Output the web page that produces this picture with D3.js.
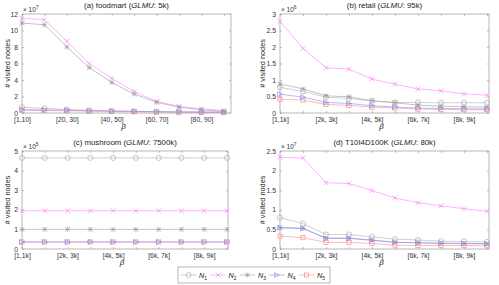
<!DOCTYPE html>
<html>
<head>
<meta charset="utf-8">
<script src="https://cdn.jsdelivr.net/npm/d3@7"></script>
<style>
  body { margin: 0; background: #fff; }
  svg { font-family: "Liberation Sans", Arial, sans-serif; }
</style>
</head>
<body>
<div id="chart"></div>
<script>
// series names and x labels
var seriesNames = ["N1", "N2", "N3", "N4", "N5"];
var foodmartTicks = ["[1,10]", "[20, 30]", "[40, 50]", "[60, 70]", "[80, 90]"];
var kTicks = ["[1,1k]", "[2k, 3k]", "[4k, 5k]", "[6k, 7k]", "[8k, 9k]"];

// (a) foodmart, x 10^7
var foodmartN1 = [0.7, 0.55, 0.42, 0.32, 0.26, 0.2, 0.15, 0.12, 0.1, 0.1];
var foodmartN2 = [11.5, 11.3, 8.7, 6.0, 4.2, 2.6, 1.4, 0.8, 0.5, 0.3];
var foodmartN3 = [10.9, 10.7, 8.0, 5.5, 3.7, 2.3, 1.3, 0.7, 0.4, 0.2];
var foodmartN4 = [0.4, 0.38, 0.34, 0.28, 0.24, 0.2, 0.16, 0.14, 0.12, 0.1];
var foodmartN5 = [0.32, 0.3, 0.26, 0.22, 0.19, 0.15, 0.12, 0.1, 0.09, 0.08];

// (b) retail, x 10^6
var retailN1 = [0.78, 0.65, 0.48, 0.44, 0.37, 0.32, 0.32, 0.31, 0.31, 0.31];
var retailN2 = [2.77, 1.96, 1.37, 1.33, 1.03, 0.87, 0.73, 0.67, 0.58, 0.54];
var retailN3 = [0.88, 0.73, 0.52, 0.49, 0.37, 0.31, 0.24, 0.21, 0.19, 0.18];
var retailN4 = [0.57, 0.48, 0.32, 0.29, 0.22, 0.18, 0.15, 0.14, 0.13, 0.12];
var retailN5 = [0.42, 0.39, 0.26, 0.23, 0.18, 0.15, 0.12, 0.11, 0.1, 0.1];

// (c) mushroom, x 10^5
var mushroomN1 = [4.65, 4.65, 4.65, 4.65, 4.65, 4.65, 4.65, 4.65, 4.65, 4.65];
var mushroomN2 = [1.95, 1.95, 1.95, 1.95, 1.95, 1.95, 1.95, 1.95, 1.95, 1.95];
var mushroomN3 = [1.0, 1.0, 1.0, 1.0, 1.0, 1.0, 1.0, 1.0, 1.0, 1.0];
var mushroomN4 = [0.36, 0.36, 0.36, 0.36, 0.36, 0.36, 0.36, 0.36, 0.36, 0.36];
var mushroomN5 = [0.36, 0.36, 0.36, 0.36, 0.36, 0.36, 0.36, 0.36, 0.36, 0.36];

// (d) T10I4D100K, x 10^7
var t10N1 = [0.8, 0.65, 0.37, 0.37, 0.31, 0.25, 0.23, 0.2, 0.19, 0.18];
var t10N2 = [2.34, 2.32, 1.69, 1.67, 1.49, 1.3, 1.18, 1.1, 1.03, 0.96];
var t10N3 = [0.55, 0.53, 0.28, 0.28, 0.23, 0.17, 0.16, 0.14, 0.14, 0.13];
var t10N4 = [0.54, 0.52, 0.27, 0.27, 0.22, 0.17, 0.16, 0.15, 0.14, 0.13];
var t10N5 = [0.33, 0.29, 0.17, 0.17, 0.14, 0.1, 0.09, 0.09, 0.09, 0.08];

var colors = ["#b0b0b0", "#ff80ff", "#9a9a9a", "#8c8cf0", "#ff8c8c"];
var markers = ["circle", "x", "star", "tri", "square"];
var drawOrder = [0, 1, 2, 4, 3];

var width = 499, height = 285;

var svg = d3.select("#chart").append("svg")
  .attr("width", width)
  .attr("height", height);

var panels = [
  {tag: "(a) foodmart (", glmu: ": 5k)", x0: 22, x1: 231, xEnd: 224, y0: 14, y1: 113,
   ymax: 12, yticks: d3.range(0, 13, 2), exp: "7", xticks: foodmartTicks, ylabX: 7,
   series: [foodmartN1, foodmartN2, foodmartN3, foodmartN4, foodmartN5]},
  {tag: "(b) retail (", glmu: ": 95k)", x0: 280, x1: 489, xEnd: 487, y0: 14, y1: 113,
   ymax: 3, yticks: d3.range(0, 3.01, 0.5), exp: "6", xticks: kTicks, ylabX: 262,
   series: [retailN1, retailN2, retailN3, retailN4, retailN5]},
  {tag: "(c) mushroom (", glmu: ": 7500k)", x0: 22, x1: 228, xEnd: 227, y0: 151, y1: 249,
   ymax: 5, yticks: d3.range(0, 6, 1), exp: "5", xticks: kTicks, ylabX: 7,
   series: [mushroomN1, mushroomN2, mushroomN3, mushroomN4, mushroomN5]},
  {tag: "(d) T10I4D100K (", glmu: ": 80k)", x0: 280, x1: 489, xEnd: 487, y0: 151, y1: 249,
   ymax: 2.5, yticks: d3.range(0, 2.51, 0.5), exp: "7", xticks: kTicks, ylabX: 262,
   series: [t10N1, t10N2, t10N3, t10N4, t10N5]}
];

function drawMarker(g, type, x, y, color) {
  var s = 2.4;
  if (type == "circle") {
    g.append("circle").attr("cx", x).attr("cy", y).attr("r", s + 0.2)
      .attr("fill", "none").attr("stroke", color).attr("stroke-width", 0.7);
  } else if (type == "square") {
    g.append("rect").attr("x", x - s + 0.3).attr("y", y - s + 0.3)
      .attr("width", 2 * s - 0.6).attr("height", 2 * s - 0.6)
      .attr("fill", "none").attr("stroke", color).attr("stroke-width", 0.7);
  } else if (type == "x") {
    g.append("path").attr("d", "M" + (x - s) + "," + (y - s) + "L" + (x + s) + "," + (y + s) +
      "M" + (x - s) + "," + (y + s) + "L" + (x + s) + "," + (y - s))
      .attr("stroke", color).attr("stroke-width", 0.7);
  } else if (type == "star") {
    g.append("path").attr("d", "M" + (x - s) + "," + (y - s) + "L" + (x + s) + "," + (y + s) +
      "M" + (x - s) + "," + (y + s) + "L" + (x + s) + "," + (y - s) +
      "M" + (x - s) + "," + y + "L" + (x + s) + "," + y +
      "M" + x + "," + (y - s) + "L" + x + "," + (y + s))
      .attr("stroke", color).attr("stroke-width", 0.6);
  } else if (type == "tri") {
    g.append("path").attr("d", "M" + (x - s) + "," + (y - s) + "L" + (x + s) + "," + y +
      "L" + (x - s) + "," + (y + s) + "Z")
      .attr("fill", "none").attr("stroke", color).attr("stroke-width", 0.7);
  }
}

panels.forEach(function(p) {
  var xScale = d3.scaleLinear().domain([0, 9]).range([p.x0, p.xEnd]);
  var yScale = d3.scaleLinear().domain([0, p.ymax]).range([p.y1, p.y0]);
  var g = svg.append("g");

  // frame
  g.append("rect").attr("x", p.x0).attr("y", p.y0)
    .attr("width", p.x1 - p.x0).attr("height", p.y1 - p.y0)
    .attr("fill", "none").attr("stroke", "#999").attr("stroke-width", 0.7);

  // y axis, ticks inside
  var yAxis = d3.axisLeft(yScale).tickValues(p.yticks).tickSizeInner(-2).tickSizeOuter(0)
    .tickPadding(4).tickFormat(d3.format("~g"));
  var ya = g.append("g").attr("transform", "translate(" + p.x0 + ",0)").call(yAxis);
  var yr = g.append("g").attr("transform", "translate(" + p.x1 + ",0)")
    .call(d3.axisRight(yScale).tickValues(p.yticks).tickSizeInner(-2).tickSizeOuter(0).tickFormat(""));

  // x axis
  var xa = g.append("g").attr("transform", "translate(0," + p.y1 + ")")
    .call(d3.axisBottom(xScale).tickValues(d3.range(0, 10)).tickSizeInner(-2).tickSizeOuter(0)
      .tickPadding(4).tickFormat(function(d) { return d % 2 == 0 ? p.xticks[d / 2] : ""; }));
  var xt = g.append("g").attr("transform", "translate(0," + p.y0 + ")")
    .call(d3.axisTop(xScale).tickValues(d3.range(0, 10)).tickSizeInner(-2).tickSizeOuter(0).tickFormat(""));

  [ya, yr, xa, xt].forEach(function(a) {
    a.select(".domain").remove();
    a.selectAll("line").attr("stroke", "#999").attr("stroke-width", 0.6);
    a.selectAll("text").attr("font-size", 6.8).attr("fill", "#333");
  });

  // exponent
  var ex = g.append("text").attr("x", p.x0 + 1).attr("y", p.y0 - 2)
    .attr("font-size", 6.5).attr("fill", "#333");
  ex.append("tspan").text("\u00d7 10");
  ex.append("tspan").attr("dy", -3).attr("font-size", 5).text(p.exp);

  // title
  var t = g.append("text").attr("x", (p.x0 + p.x1) / 2).attr("y", p.y0 - 6.5)
    .attr("text-anchor", "middle").attr("font-size", 7.8).attr("fill", "#222");
  t.append("tspan").text(p.tag);
  t.append("tspan").attr("font-style", "italic").text("GLMU");
  t.append("tspan").text(p.glmu);

  // y label
  g.append("text")
    .attr("transform", "translate(" + p.ylabX + "," + ((p.y0 + p.y1) / 2) + ") rotate(-90)")
    .attr("text-anchor", "middle").attr("dy", "0.35em").attr("font-size", 7.3).attr("fill", "#222")
    .text("# visited nodes");

  // beta
  g.append("text").attr("x", (p.x0 + p.x1) / 2 - 3).attr("y", p.y1 + 16)
    .attr("text-anchor", "middle").attr("font-size", 8).attr("font-style", "italic")
    .attr("fill", "#222").text("\u03b2");

  // series
  var line = d3.line().x(function(d, i) { return xScale(i); }).y(function(d) { return yScale(d); });
  drawOrder.forEach(function(k) {
    var vals = p.series[k];
    g.append("path").datum(vals).attr("d", line)
      .attr("fill", "none").attr("stroke", colors[k]).attr("stroke-width", 0.6);
    vals.forEach(function(v, i) {
      drawMarker(g, markers[k], xScale(i), yScale(v), colors[k]);
    });
  });
});

// legend
var lg = svg.append("g");
lg.append("rect").attr("x", 178).attr("y", 267).attr("width", 152).attr("height", 16)
  .attr("fill", "#fff").attr("stroke", "#999").attr("stroke-width", 0.7);
seriesNames.forEach(function(n, k) {
  var lx = 181 + k * 29.5, ly = 275;
  lg.append("line").attr("x1", lx).attr("x2", lx + 15).attr("y1", ly).attr("y2", ly)
    .attr("stroke", colors[k]).attr("stroke-width", 0.6);
  drawMarker(lg, markers[k], lx + 7.5, ly, colors[k]);
  var tx = lg.append("text").attr("x", lx + 18).attr("y", ly + 2.5)
    .attr("font-size", 7.3).attr("fill", "#222");
  tx.append("tspan").attr("font-style", "italic").text("N");
  tx.append("tspan").attr("dy", 2).attr("font-size", 5).text(n.slice(1));
});
</script>
</body>
</html>
